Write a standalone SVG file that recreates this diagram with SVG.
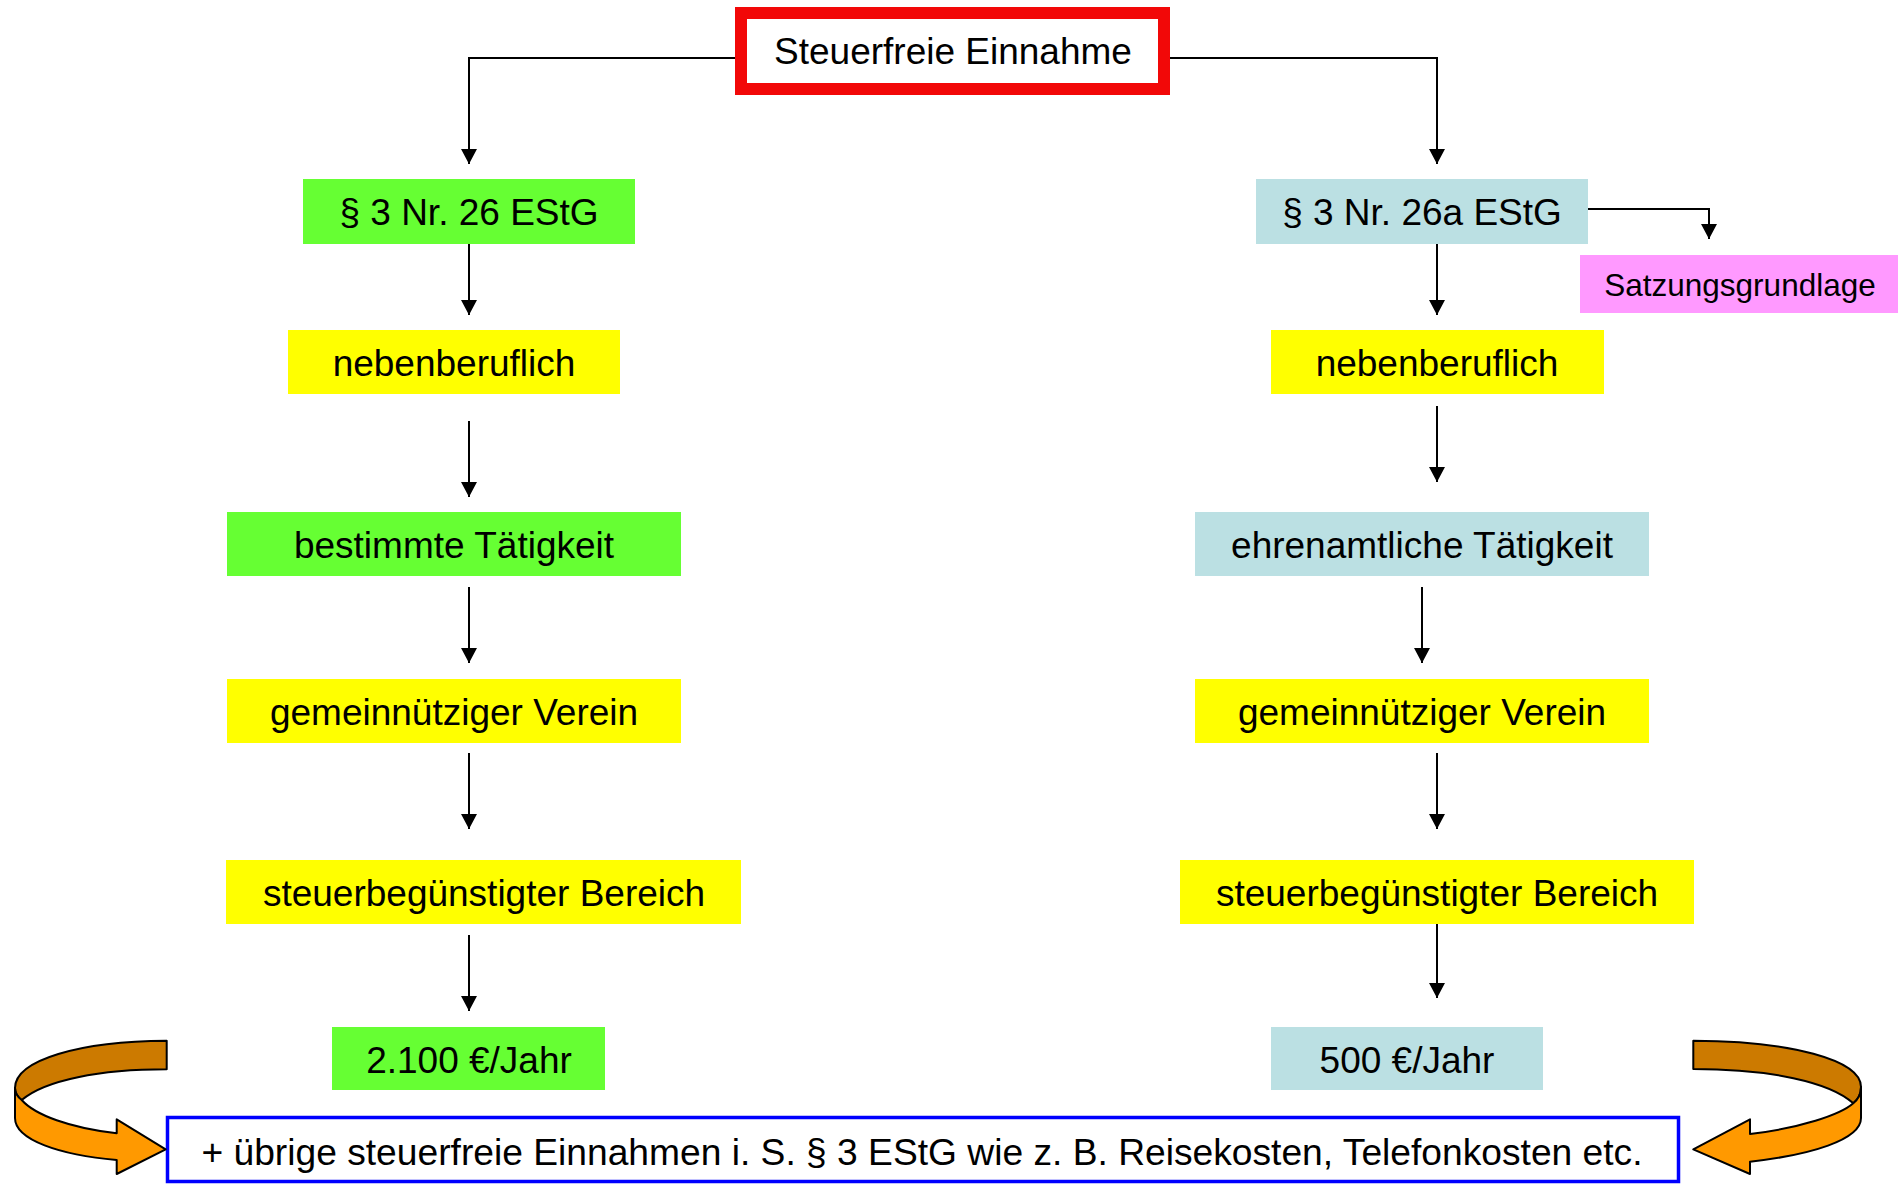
<svg xmlns="http://www.w3.org/2000/svg" width="1901" height="1184" viewBox="0 0 1901 1184">
<style>
text{font-family:"Liberation Sans",Arial,"DejaVu Sans",sans-serif;font-size:37px;fill:#000;text-anchor:middle}
.green{fill:#66FF33}
.yellow{fill:#FFFF00}
.blue{fill:#BBE0E3}
.pink{fill:#FF99FF}
.conn line,.conn polyline{stroke:#000;stroke-width:2;fill:none;marker-end:url(#ah)}
.dark{fill:#CC7A00;stroke:#000;stroke-width:2;stroke-linejoin:round}
.orange{fill:#FF9900;stroke:#000;stroke-width:2;stroke-linejoin:round}
</style>
<defs>
<marker id="ah" markerUnits="userSpaceOnUse" markerWidth="16" markerHeight="16" refX="15" refY="8" orient="auto">
<path d="M0,0 L15,8 L0,16 Z" fill="#000"/>
</marker>
</defs>
<rect width="1901" height="1184" fill="#fff"/>

<g class="conn" id="connectors">
<polyline points="741,58 469,58 469,164"/>
<polyline points="1164,58 1437,58 1437,164"/>
<line x1="469" y1="240" x2="469" y2="315"/>
<line x1="469" y1="421" x2="469" y2="497"/>
<line x1="469" y1="587" x2="469" y2="663"/>
<line x1="469" y1="753" x2="469" y2="829"/>
<line x1="469" y1="935" x2="469" y2="1011"/>
<line x1="1437" y1="240" x2="1437" y2="315"/>
<polyline points="1588,209 1709,209 1709,239"/>
<line x1="1437" y1="406" x2="1437" y2="482"/>
<line x1="1422" y1="587" x2="1422" y2="663"/>
<line x1="1437" y1="753" x2="1437" y2="829"/>
<line x1="1437" y1="920" x2="1437" y2="998"/>
</g>

<g id="title">
<rect x="741" y="13" width="423" height="76" fill="#fff" stroke="#F20808" stroke-width="12"/>
<text x="953" y="64">Steuerfreie Einnahme</text>
</g>

<g id="l1"><rect class="green" x="303" y="179" width="332" height="65"/><text x="469" y="225">§ 3 Nr. 26 EStG</text></g>
<g id="l2"><rect class="yellow" x="288" y="330" width="332" height="64"/><text x="454" y="376">nebenberuflich</text></g>
<g id="l3"><rect class="green" x="227" y="512" width="454" height="64"/><text x="454" y="558">bestimmte Tätigkeit</text></g>
<g id="l4"><rect class="yellow" x="227" y="679" width="454" height="64"/><text x="454" y="725">gemeinnütziger Verein</text></g>
<g id="l5"><rect class="yellow" x="226" y="860" width="515" height="64"/><text x="484" y="906">steuerbegünstigter Bereich</text></g>
<g id="l6"><rect class="green" x="332" y="1027" width="273" height="63"/><text x="469" y="1073">2.100 €/Jahr</text></g>

<g id="r1"><rect class="blue" x="1256" y="179" width="332" height="65"/><text x="1422" y="225">§ 3 Nr. 26a EStG</text></g>
<g id="sg"><rect class="pink" x="1580" y="255" width="318" height="58"/><text x="1740" y="296" style="font-size:31.5px">Satzungsgrundlage</text></g>
<g id="r2"><rect class="yellow" x="1271" y="330" width="333" height="64"/><text x="1437" y="376">nebenberuflich</text></g>
<g id="r3"><rect class="blue" x="1195" y="512" width="454" height="64"/><text x="1422" y="558">ehrenamtliche Tätigkeit</text></g>
<g id="r4"><rect class="yellow" x="1195" y="679" width="454" height="64"/><text x="1422" y="725">gemeinnütziger Verein</text></g>
<g id="r5"><rect class="yellow" x="1180" y="860" width="514" height="64"/><text x="1437" y="906">steuerbegünstigter Bereich</text></g>
<g id="r6"><rect class="blue" x="1271" y="1027" width="272" height="63"/><text x="1407" y="1073">500 €/Jahr</text></g>

<g id="bottom">
<rect x="167.5" y="1117.5" width="1511" height="64" fill="#fff" stroke="#0000FF" stroke-width="3.5"/>
<text x="922" y="1165" style="font-size:37.2px">+ übrige steuerfreie Einnahmen i. S. § 3 EStG wie z. B. Reisekosten, Telefonkosten etc.</text>
</g>

<g id="arrow-left">
<path class="dark" d="M166.7,1040.7 C80,1041 15,1060 15,1088 Q15,1095 21.7,1100 C45,1080 100,1069.3 166.7,1069.3 Z"/>
<path class="orange" d="M15,1088 L15,1118 C15,1140 60,1155 116.7,1160 L116.7,1174 L165.7,1149.3 L116.7,1119.3 L116.7,1133.3 C70,1128 35,1115 21.7,1100 Q15,1095 15,1088 Z"/>
</g>
<g id="arrow-right">
<path class="dark" d="M1693.3,1040.7 C1790,1041 1861,1060 1861,1087 Q1861,1097 1853.3,1103.3 C1830,1082 1770,1069 1693.3,1069 Z"/>
<path class="orange" d="M1861,1087 L1861,1118 C1861,1140 1810,1155 1750,1161.7 L1750,1174 L1693.3,1149.3 L1750,1119.3 L1750,1134 C1800,1128 1840,1115 1853.3,1103.3 Q1861,1097 1861,1087 Z"/>
</g>
</svg>
